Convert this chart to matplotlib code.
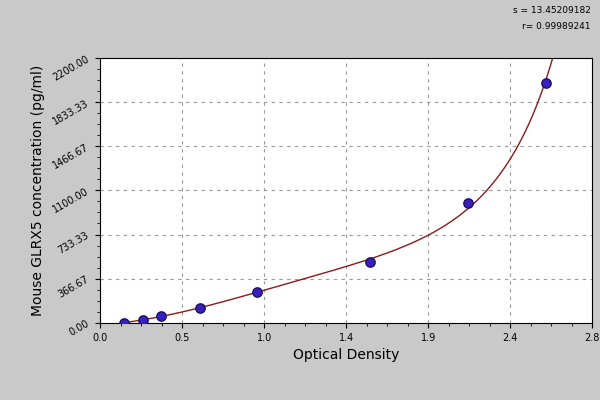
import numpy as np
import matplotlib
matplotlib.use("Agg")
import matplotlib.pyplot as plt

od = [0.137, 0.245, 0.347, 0.569, 0.893, 1.537, 2.094, 2.538]
conc = [0, 25, 58, 124, 257, 506, 996, 1992]
yticks = [0, 366.67, 733.33, 1100, 1466.67, 1833.33, 2200]
ylabels = ["0.00", "366.67", "733.33", "1100.00", "1466.67", "1833.33", "2200.00"]
xticks = [0, 2.8/6, 2*2.8/6, 3*2.8/6, 4*2.8/6, 5*2.8/6, 2.8]
xlabels = ["0.0", "0.5", "1.0", "1.4", "1.9", "2.4", "2.8"]

fig = plt.figure(figsize=(6, 4), dpi=100, facecolor="#c9c9c9")
ax = fig.add_axes([0.167, 0.193, 0.82, 0.662])
ax.set_facecolor("white")

off = 60.0
coef = np.polyfit(od, np.log(np.array(conc) + off), 3)
xs = np.linspace(0.12, 2.8, 400)
ys = np.exp(np.polyval(coef, xs)) - off
ax.plot(xs, ys, color="#8b1a1a", lw=1)
ax.scatter(od, conc, s=45, color="#3a1fc0", edgecolor="#1a1060", zorder=3)

ax.set_xlim(0, 2.8)
ax.set_ylim(0, 2200)
ax.set_xticks(xticks)
ax.set_xticklabels(xlabels, fontsize=7)
ax.set_yticks(yticks)
ax.set_yticklabels(ylabels, fontsize=7, rotation=30)
ax.minorticks_on()
ax.grid(True, which="major", linestyle=(0, (3, 4)), color="#999999", lw=0.8)
ax.set_xlabel("Optical Density", fontsize=10)
ax.set_ylabel("Mouse GLRX5 concentration (pg/ml)", fontsize=10)
fig.text(0.985, 0.985, "s = 13.45209182", ha="right", va="top", fontsize=6.5)
fig.text(0.985, 0.945, "r= 0.99989241", ha="right", va="top", fontsize=6.5)
fig.savefig("out.png", dpi=100, facecolor=fig.get_facecolor())
